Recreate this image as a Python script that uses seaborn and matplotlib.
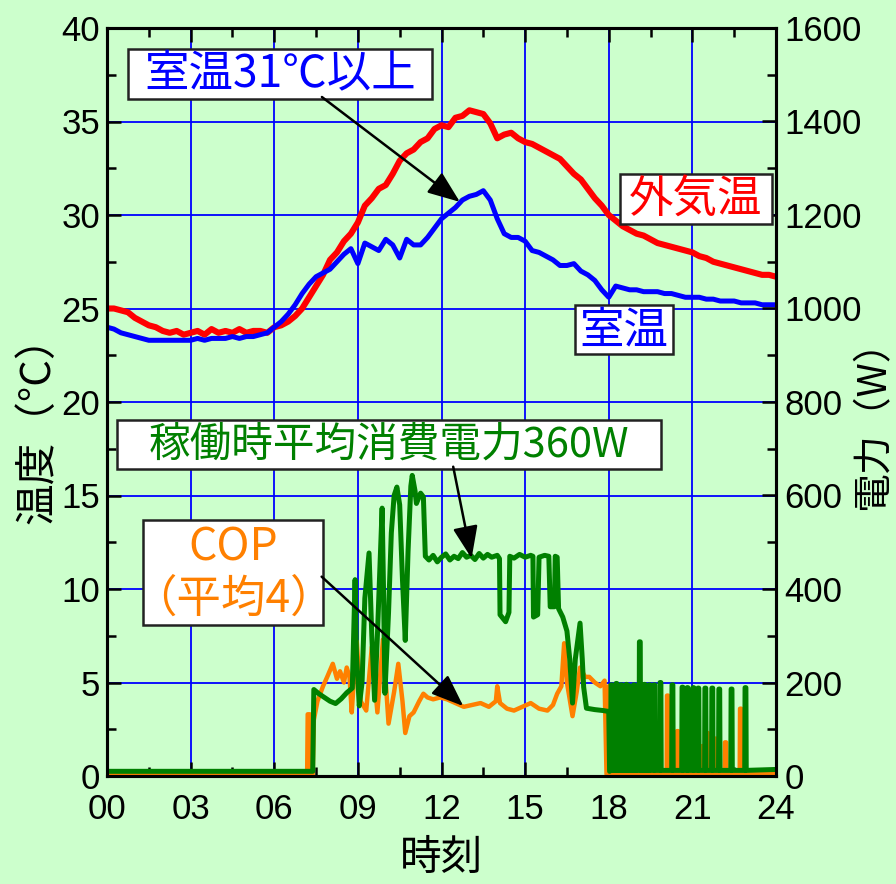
import matplotlib
matplotlib.use("Agg")
import matplotlib.pyplot as plt
import pandas as pd
import seaborn as sns
from matplotlib.patches import Rectangle
from matplotlib.ticker import MultipleLocator

# ---------------- data ----------------
# temperatures sampled every 15 minutes, 00:00 .. 24:00
temp_hours = [i * 0.25 for i in range(97)]

outdoor_temp = [
    25.0, 25.0, 24.9, 24.8, 24.5, 24.3, 24.1, 24.0,
    23.8, 23.7, 23.8, 23.6, 23.7, 23.8, 23.6, 23.9,
    23.7, 23.8, 23.7, 23.9, 23.7, 23.8, 23.8, 23.7,
    24.0, 24.1, 24.3, 24.6, 25.0, 25.6, 26.2, 26.8,
    27.6, 28.0, 28.6, 29.0, 29.6, 30.5, 30.9, 31.4,
    31.6, 32.2, 32.9, 33.3, 33.5, 33.9, 34.1, 34.6,
    34.8, 34.7, 35.2, 35.3, 35.6, 35.5, 35.4, 34.9,
    34.1, 34.3, 34.4, 34.1, 33.9, 33.8, 33.6, 33.4,
    33.2, 33.0, 32.6, 32.2, 31.9, 31.4, 30.9, 30.5,
    30.0, 29.7, 29.4, 29.2, 29.0, 28.9, 28.7, 28.5,
    28.4, 28.3, 28.2, 28.1, 28.0, 27.8, 27.7, 27.5,
    27.4, 27.3, 27.2, 27.1, 27.0, 26.9, 26.8, 26.8,
    26.7,
]

room_temp = [
    24.0, 23.9, 23.7, 23.6, 23.5, 23.4, 23.3, 23.3,
    23.3, 23.3, 23.3, 23.3, 23.3, 23.4, 23.3, 23.4,
    23.4, 23.4, 23.5, 23.4, 23.5, 23.5, 23.6, 23.7,
    24.0, 24.3, 24.7, 25.2, 25.8, 26.3, 26.7, 26.9,
    27.1, 27.5, 27.9, 28.2, 27.4, 28.5, 28.3, 28.1,
    28.7, 28.4, 27.7, 28.7, 28.4, 28.4, 28.8, 29.3,
    29.8, 30.1, 30.4, 30.8, 31.0, 31.1, 31.3, 30.8,
    29.8, 29.0, 28.8, 28.8, 28.6, 28.1, 28.0, 27.8,
    27.6, 27.3, 27.3, 27.4, 27.0, 26.8, 26.5, 26.0,
    25.6, 26.2, 26.1, 26.0, 26.0, 25.9, 25.9, 25.9,
    25.8, 25.8, 25.7, 25.6, 25.6, 25.6, 25.5, 25.5,
    25.4, 25.4, 25.4, 25.3, 25.3, 25.3, 25.2, 25.2,
    25.2,
]

# power consumption (W) until the unit goes into on/off cycling
power_hours = [
    0.0, 7.38, 7.42, 7.6, 7.8, 8.0, 8.2, 8.4, 8.6, 8.8, 8.85, 8.9, 8.95,
    9.05, 9.15, 9.25, 9.4, 9.5, 9.6, 9.7, 9.87, 9.92, 9.97, 10.1, 10.2,
    10.3, 10.4, 10.5, 10.6, 10.7, 10.8, 10.9, 10.95, 11.05, 11.1, 11.25,
    11.35, 11.42, 11.55, 11.7, 11.85, 12.0, 12.15, 12.3, 12.45, 12.6,
    12.75, 12.9, 13.05, 13.2, 13.35, 13.5, 13.65, 13.8, 14.0, 14.08, 14.1,
    14.3, 14.42, 14.45, 14.6, 14.8, 15.0, 15.2, 15.28, 15.3, 15.45, 15.5,
    15.7, 15.85, 15.9, 16.05, 16.08, 16.15, 16.2, 16.35, 16.5, 16.6, 16.7,
    16.8, 16.97, 17.05, 17.1, 17.2, 17.5, 17.8, 18.0, 18.03,
]
power_watts = [
    10, 10, 185, 176, 168, 160, 155, 165, 178, 188, 300, 420, 260,
    150, 200, 380, 477, 300, 162, 300, 573, 400, 177, 350, 520,
    600, 618, 580, 420, 290, 480, 620, 643, 610, 583, 605,
    597, 470, 462, 472, 458, 468, 475, 462, 470, 465,
    478, 468, 472, 463, 476, 466, 474, 468, 472, 465, 345,
    330, 350, 470, 466, 474, 468, 472, 470, 340, 345, 468,
    472, 470, 362, 362, 470, 468, 358, 340, 310, 250, 156,
    250, 327, 250, 190, 145, 142, 140, 138, 10,
]
# evening compressor on/off cycles: start hour and power while running
cycle_hours = [18.08, 18.17, 18.26, 18.35, 18.44, 18.53, 18.62, 18.71, 18.8,
               18.89, 18.98, 19.1, 19.18, 19.27, 19.36, 19.45,
               19.62, 19.84, 20.27, 20.63, 20.81, 21.02, 21.2, 21.45, 21.7,
               21.95, 22.39, 22.89]
cycle_watts = [195, 190, 198, 192, 195, 190, 196, 193, 190,
               195, 192, 287, 190, 196, 192, 195,
               195, 200, 195, 190, 189, 189, 188, 188, 188,
               186, 186, 189]
idle_watts = 12

# COP (left axis)
cop_hours = [
    0.0, 7.18, 7.2, 7.28, 7.3, 7.38, 7.42, 7.55, 7.75, 7.9, 8.1, 8.25, 8.36,
    8.5, 8.6, 8.7, 8.78, 8.85, 8.96, 9.1, 9.3, 9.5, 9.7, 9.9, 10.1, 10.3,
    10.45, 10.6, 10.7, 10.85, 11.0, 11.2, 11.35, 11.5, 11.7, 11.95, 12.2,
    12.5, 12.8, 13.1, 13.4, 13.7, 13.95, 14.0, 14.1, 14.35, 14.6, 14.9,
    15.2, 15.5, 15.8, 16.0, 16.15, 16.3, 16.4, 16.5, 16.7, 16.85, 16.97,
    17.15, 17.3, 17.5, 17.7, 17.85, 17.92,
]
cop_values = [
    0.1, 0.1, 3.3, 3.3, 0.1, 0.1, 3.0, 4.0, 4.8, 5.3, 6.0, 5.2, 5.6,
    5.0, 5.8, 5.3, 3.4, 5.0, 7.2, 4.0, 3.5, 6.9, 3.4, 7.3, 2.8, 4.5,
    6.0, 4.0, 2.3, 3.2, 3.4, 4.0, 4.4, 4.2, 4.1, 4.2, 4.1,
    3.9, 3.7, 3.8, 3.9, 3.7, 4.0, 4.8, 3.9, 3.6, 3.5, 3.7,
    3.9, 3.6, 3.5, 3.8, 4.4, 4.8, 7.1, 5.0, 3.2, 4.5, 5.8,
    5.3, 5.3, 5.0, 4.8, 5.1, 0.1,
]
cop_cycle_hours = [18.0, 18.07, 19.48, 20.09, 20.45, 20.74, 21.35, 21.52,
                   21.81, 22.17, 22.71]
cop_cycle_values = [4.8, 4.6, 4.4, 4.3, 2.4, 4.1, 1.6, 2.3, 2.0, 1.8, 3.6]
cop_idle = 0.1


def with_cycles(hours, values, on_hours, on_values, idle, width, end_value):
    h, v = list(hours), list(values)
    for t, p in zip(on_hours, on_values):
        h += [t - 0.012, t, t + width, t + width + 0.012]
        v += [idle, p, p, idle]
    h.append(24.0)
    v.append(end_value)
    return pd.DataFrame({"hour": h, "value": v})


temps = pd.DataFrame({"hour": temp_hours, "outdoor": outdoor_temp,
                      "room": room_temp})
power = with_cycles(power_hours, power_watts, cycle_hours, cycle_watts,
                    idle_watts, 0.03, 14)
cop = with_cycles(cop_hours, cop_values, cop_cycle_hours, cop_cycle_values,
                  cop_idle, 0.04, 0.1)

# ---------------- style ----------------
sns.set_style("ticks")
bg = "#CCFFCC"
cjk = ["Noto Sans CJK JP", "DejaVu Sans"]
plt.rcParams["font.family"] = ["Liberation Sans", "Noto Sans CJK JP",
                               "DejaVu Sans"]
for key in ("text.color", "axes.labelcolor", "xtick.color", "ytick.color",
            "xtick.labelcolor", "ytick.labelcolor"):
    plt.rcParams[key] = "black"

fig = plt.figure(figsize=(8.96, 8.84), dpi=100, facecolor=bg)
ax = fig.add_axes([107 / 896, 1 - 776 / 884, 669 / 896, 748 / 884])
ax.set_facecolor(bg)
ax2 = ax.twinx()

sns.lineplot(data=temps, x="hour", y="outdoor", ax=ax, color="#FF0000",
             lw=4.4, estimator=None, sort=False)
sns.lineplot(data=temps, x="hour", y="room", ax=ax, color="#0000FF",
             lw=3.6, estimator=None, sort=False)
sns.lineplot(data=cop, x="hour", y="value", ax=ax, color="#FF8000",
             lw=3.2, estimator=None, sort=False)
sns.lineplot(data=power, x="hour", y="value", ax=ax2, color="#008000",
             lw=3.6, estimator=None, sort=False)

# axes, ticks, grid
ax.set_xlim(0, 24)
ax.set_ylim(0, 40)
ax2.set_ylim(0, 1600)
ax.set_xticks(range(0, 25, 3))
ax.set_xticklabels([f"{h:02d}" for h in range(0, 25, 3)])
ax.xaxis.set_minor_locator(MultipleLocator(1.5))
ax.yaxis.set_major_locator(MultipleLocator(5))
ax.yaxis.set_minor_locator(MultipleLocator(2.5))
ax2.yaxis.set_major_locator(MultipleLocator(200))
ax2.yaxis.set_minor_locator(MultipleLocator(100))

for a in (ax, ax2):
    a.tick_params(which="both", direction="in", width=1.8, labelsize=25,
                  color="black", labelcolor="black")
    a.tick_params(which="major", length=10)
    a.tick_params(which="minor", length=6.5)
    for s in a.spines.values():
        s.set_linewidth(2.2)
        s.set_color("black")
ax.tick_params(axis="x", which="both", top=True, pad=12)
ax.tick_params(axis="y", pad=5)
ax2.tick_params(axis="y", pad=6)
ax.grid(True, which="major", color="#0000FF", lw=1.3)
ax.set_axisbelow(True)

ax.set_xlabel("時刻", fontsize=30, family=cjk, color="black",
              ha="center", va="center")
ax.set_ylabel("温度（°C）", fontsize=30, family=cjk, color="black",
              ha="center", va="center")
ax2.set_ylabel("電力（W）", fontsize=28, family=cjk, color="black",
               ha="center", va="center")
ax.xaxis.set_label_coords(0.5, -0.1096)
ax.yaxis.set_label_coords(-0.103, 0.476)
ax2.yaxis.set_label_coords(1.146, 0.483)

# ---------------- labels and arrows (in temperature units) ----------------
T = ax.transData


def label_box(h0, h1, t0, t1, text, color, x, y, size=32):
    ax2.add_patch(Rectangle((h0, t0), h1 - h0, t1 - t0, transform=T,
                            fc="white", ec="#222222", lw=1.8, zorder=6,
                            clip_on=False))
    ax2.text(x, y, text, transform=T, ha="center", va="center",
             fontsize=size, color=color, family=cjk, zorder=7,
             linespacing=1.15)


def arrow(start, end):
    ax2.annotate("", xy=end, xytext=start, xycoords=T, textcoords=T,
                 arrowprops=dict(arrowstyle="-|>,head_length=0.9,head_width=0.35",
                                 color="black", lw=1.8, shrinkA=0, shrinkB=0,
                                 mutation_scale=22), zorder=8)


label_box(0.75, 11.66, 36.20, 38.88, "室温31℃以上", "#0000FF", 6.20, 37.50)
arrow((7.71, 36.31), (12.66, 30.7))

label_box(18.40, 23.86, 29.52, 32.19, "外気温", "#FF0000", 21.13, 30.80)
label_box(16.79, 20.30, 22.57, 25.19, "室温", "#0000FF", 18.55, 23.82)

label_box(0.36, 19.87, 16.42, 19.04, "稼働時平均消費電力360W", "#008000",
          10.12, 17.68, size=30)
arrow((12.42, 16.54), (13.08, 11.64))

label_box(1.29, 7.75, 8.07, 13.69, "COP\n（平均4）", "#FF8000", 4.52, 10.85)
arrow((7.70, 10.66), (12.78, 3.74))

ax.set_ylim(0, 40)
ax2.set_ylim(0, 1600)
ax.set_xlim(0, 24)

fig.savefig("out.png", dpi=100, facecolor=bg)
